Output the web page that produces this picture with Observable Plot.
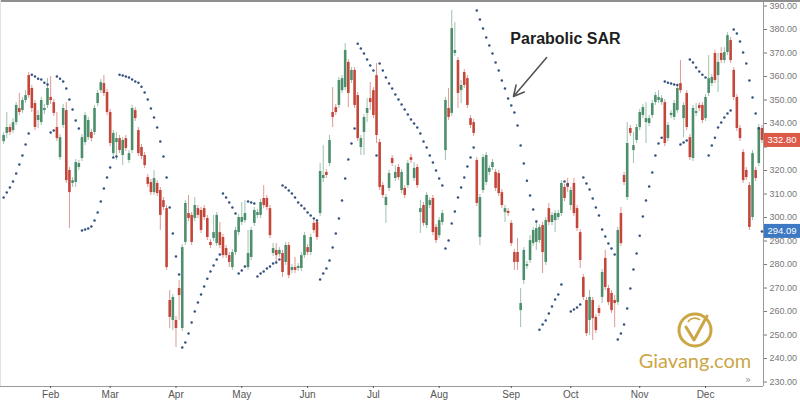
<!DOCTYPE html>
<html><head><meta charset="utf-8">
<script src="https://cdn.jsdelivr.net/npm/d3@7"></script>
<script src="https://cdn.jsdelivr.net/npm/@observablehq/plot@0.6"></script>
<style>
body{margin:0;background:#fff;}
#wrap{position:relative;width:800px;height:400px;overflow:hidden;background:#fff;}
</style></head><body><div id="wrap"></div>
<script>
// Daily OHLC (trading-day index 0..242)
const opens = [
332.3,335.8,338.3,337.0,340.4,346.4,345.5,349.8,360.4,354.9,
348.5,341.3,340.4,345.5,347.7,351.1,348.9,338.3,325.5,339.2,
345.5,320.0,314.5,314.9,321.3,325.1,331.9,334.0,336.2,336.2,
348.5,354.0,357.0,353.2,344.7,327.2,331.9,333.6,326.4,333.6,
324.3,328.5,345.5,337.0,329.8,326.4,317.0,314.9,310.6,314.5,
311.5,307.2,303.8,264.7,256.2,256.2,269.8,252.8,289.4,301.7,
300.9,299.6,303.8,303.0,303.8,299.6,289.4,291.1,288.9,293.6,
291.5,286.8,283.8,278.7,285.1,293.6,297.9,298.7,278.7,283.0,
297.5,300.9,300.9,308.1,308.1,303.8,284.7,286.0,284.3,284.7,
280.9,288.1,277.5,278.7,278.3,278.3,283.8,287.2,285.1,297.5,
297.9,301.7,316.6,319.2,323.0,344.7,346.8,347.7,354.0,355.3,
366.0,358.3,362.6,351.9,329.8,336.2,344.3,350.6,354.0,360.4,
331.9,313.6,305.1,312.4,325.1,316.6,321.3,311.5,312.4,313.6,
325.5,316.6,321.3,302.1,305.1,296.6,305.1,308.1,295.8,292.3,
297.9,328.5,346.4,344.3,369.8,366.8,354.0,361.7,359.1,342.1,
340.4,324.3,291.5,311.5,314.9,319.2,321.3,319.2,318.7,310.6,
302.1,302.6,297.5,285.1,285.1,260.4,273.2,279.2,281.7,288.9,
289.4,290.2,296.6,280.9,303.8,297.9,298.7,300.0,301.7,312.8,
314.5,305.1,314.5,303.8,293.6,274.5,264.7,256.2,264.7,257.5,
261.3,266.0,282.6,269.8,267.7,264.7,263.8,301.7,317.9,308.5,
337.9,328.5,332.8,338.3,343.4,340.4,340.0,343.4,348.9,349.8,
348.9,348.9,333.6,343.4,342.6,345.5,357.0,342.1,352.8,334.0,
325.1,344.3,347.7,347.7,342.1,352.8,357.0,369.8,360.4,369.8,
366.8,370.2,375.3,362.6,351.1,337.9,327.7,320.0,313.6,300.0,
320.0,323.0,337.9];
const highs = [
336.2,344.7,339.6,342.1,348.9,352.8,351.1,354.0,361.7,356.2,
349.8,345.5,351.1,348.1,359.1,360.0,350.2,344.7,335.3,348.1,
348.9,321.3,317.0,324.7,324.3,335.3,344.7,342.6,337.5,347.7,
354.0,358.7,360.4,354.5,346.0,337.0,336.2,334.9,334.0,334.9,
328.5,347.7,346.8,338.3,331.1,327.7,318.3,316.2,320.0,315.7,
312.8,308.5,305.1,268.9,267.2,257.9,273.2,288.5,307.2,309.4,
302.1,308.5,305.1,304.3,305.1,300.9,290.6,300.9,302.1,297.9,
292.8,288.1,285.1,286.4,295.8,301.3,306.4,307.2,294.5,295.8,
304.3,303.4,307.7,313.6,309.4,305.1,288.9,288.9,287.2,286.0,
289.4,289.4,280.0,283.0,280.4,285.1,293.6,288.5,292.8,298.7,
299.2,323.0,330.6,320.4,334.9,355.3,348.1,359.6,360.4,374.0,
367.2,363.8,363.8,353.2,334.9,343.8,350.6,357.4,355.3,365.5,
333.2,314.9,309.8,320.0,326.4,322.1,322.6,320.4,313.6,324.3,
326.8,323.4,322.6,307.2,306.4,310.6,308.5,309.4,297.0,300.0,
303.0,351.1,354.9,388.1,383.0,368.1,358.3,363.0,360.4,343.4,
341.7,325.5,309.8,326.8,327.7,322.1,324.7,320.4,320.0,311.9,
305.1,303.8,298.7,286.4,291.1,269.8,287.2,281.3,292.3,295.8,
298.7,297.0,297.9,300.0,306.0,302.1,303.0,303.0,315.7,314.1,
316.6,312.8,316.6,305.1,294.9,275.8,266.0,268.9,266.0,258.7,
262.6,277.9,286.0,271.1,268.9,266.8,295.8,304.3,319.2,340.4,
339.2,336.2,339.6,346.0,348.1,348.9,343.4,349.8,353.2,354.0,
351.9,350.2,340.4,345.5,349.8,356.2,366.8,348.9,354.0,335.3,
347.7,348.5,348.9,348.9,352.3,368.9,360.8,371.1,369.8,372.3,
372.3,378.7,376.6,363.8,352.3,339.2,328.9,321.3,314.9,328.5,
321.3,339.6,339.2];
const lows = [
331.1,333.6,334.9,335.8,339.2,343.4,344.3,348.5,350.6,344.7,
337.0,337.9,339.2,343.8,346.4,348.1,343.0,332.3,324.3,337.9,
314.5,295.3,312.8,312.8,320.0,323.8,330.6,332.8,332.3,334.9,
347.2,352.8,351.5,343.4,330.2,326.0,324.3,327.2,322.1,328.1,
323.0,327.2,340.9,326.0,324.7,320.9,312.8,309.4,309.4,308.9,
294.5,303.0,277.5,252.8,251.9,244.7,256.2,251.5,288.1,298.3,
288.1,298.3,299.6,293.2,298.7,290.2,286.8,289.8,287.7,286.8,
282.6,282.6,278.7,277.5,283.8,292.3,296.6,297.5,277.5,281.7,
296.2,299.6,299.6,303.8,303.0,291.1,283.4,280.9,283.0,274.5,
279.6,274.0,276.2,276.2,277.0,277.0,282.6,283.8,283.8,293.2,
290.2,300.4,314.9,316.6,321.7,338.3,343.4,346.4,352.8,354.0,
346.8,357.0,346.4,332.3,326.4,326.4,340.4,345.5,342.1,331.5,
311.5,308.1,297.5,311.1,321.7,315.3,315.7,310.2,308.1,312.4,
323.0,315.3,312.4,293.2,296.2,295.3,303.8,292.3,288.9,291.1,
296.6,324.3,341.3,343.0,368.5,346.4,348.5,354.9,346.4,337.9,
334.5,304.7,288.1,310.2,313.6,317.9,320.0,311.1,308.9,303.8,
297.9,300.4,287.7,277.5,277.5,253.2,271.5,277.9,280.4,287.7,
286.0,288.9,276.2,279.6,296.6,296.6,293.6,298.7,300.4,306.8,
310.6,303.0,300.4,294.0,278.3,264.7,249.4,249.8,247.7,250.6,
257.9,263.4,268.9,262.6,259.2,253.2,262.6,287.7,313.6,307.2,
334.5,323.0,331.5,337.0,342.1,331.5,338.7,342.1,347.7,348.5,
347.7,330.2,332.3,342.1,341.3,344.3,352.8,334.0,337.0,324.3,
323.8,343.0,345.1,340.0,340.9,351.5,355.7,357.0,353.2,365.5,
365.5,368.9,365.5,349.8,336.6,332.3,314.5,315.7,294.5,298.7,
315.3,321.7,331.5];
const closes = [
334.9,338.3,336.2,340.4,347.7,344.7,349.8,351.9,351.9,346.4,
338.3,343.4,349.8,346.4,354.9,349.8,344.3,333.6,334.0,346.4,
315.7,310.6,315.7,323.4,323.0,334.0,343.4,341.3,333.6,346.4,
352.8,357.4,352.8,344.7,331.5,335.8,333.6,328.5,332.8,329.4,
327.2,346.4,342.1,327.2,326.0,322.1,314.1,310.6,316.6,310.2,
300.9,304.3,278.7,257.5,266.0,252.8,266.8,287.2,306.0,299.6,
289.4,305.1,300.9,294.5,300.0,291.5,288.1,293.6,300.9,288.1,
283.8,283.8,280.9,285.1,294.5,300.0,300.0,301.7,284.7,294.5,
303.0,302.1,306.4,305.1,304.3,292.3,286.8,283.8,286.0,276.6,
288.1,275.3,278.7,277.5,279.2,283.8,292.3,285.1,291.5,294.5,
291.5,319.6,317.9,317.9,332.8,342.6,344.7,358.3,359.1,371.1,
352.8,362.6,347.7,333.6,333.6,342.6,346.4,348.9,343.4,334.9,
312.8,309.4,308.5,318.7,323.0,319.2,317.0,319.2,309.4,323.0,
324.3,320.9,313.6,303.8,297.5,309.4,307.2,293.6,290.2,298.7,
301.7,349.8,342.6,380.4,371.1,352.8,356.2,356.2,347.7,339.2,
335.8,306.0,308.5,325.5,326.4,320.9,323.4,312.4,310.2,305.1,
303.8,301.7,288.9,280.9,280.9,263.4,286.0,280.0,290.2,294.5,
295.3,295.8,285.1,298.7,297.9,300.9,301.7,301.7,314.5,308.1,
312.8,311.5,301.7,295.3,281.7,266.0,250.6,266.0,257.0,251.9,
259.2,276.6,270.2,263.8,260.4,263.4,294.5,288.9,314.9,331.5,
335.8,330.6,338.3,344.7,346.8,342.1,342.1,348.5,351.9,351.1,
350.6,331.5,339.2,344.3,348.5,354.9,354.0,347.7,338.3,325.5,
346.4,345.1,346.4,341.3,351.1,359.1,359.6,358.3,366.0,366.8,
370.2,377.4,366.8,351.1,337.9,333.6,315.7,317.0,295.8,327.2,
316.6,338.3,332.8];
// Parabolic SAR value per day
const sar = [
308.5,310.6,312.8,315.3,318.7,322.6,326.4,331.1,335.8,360.8,
360.0,359.1,358.7,357.4,356.6,336.2,337.0,360.0,359.1,357.9,
354.9,350.2,346.0,341.3,337.9,294.5,294.9,295.3,296.2,298.7,
302.1,306.8,312.4,317.0,321.3,325.5,326.0,360.8,360.4,360.0,
359.6,358.7,357.9,357.4,355.7,353.2,350.2,346.4,342.6,338.3,
332.3,326.0,317.0,304.3,293.2,283.4,275.8,244.7,246.8,250.6,
255.3,260.0,263.8,267.2,270.6,274.0,277.0,279.6,282.1,284.3,
310.2,308.5,306.4,304.3,301.7,276.2,277.5,279.2,306.8,306.4,
306.0,274.9,276.2,277.0,278.3,279.2,280.4,280.9,282.1,313.6,
312.8,311.5,310.2,308.5,306.4,305.1,303.8,302.1,300.9,299.6,
298.7,273.6,276.2,278.3,281.7,287.2,293.2,299.6,307.2,316.6,
324.7,331.5,337.9,374.0,371.9,369.8,367.2,364.7,362.6,326.4,
365.5,362.6,359.6,357.0,354.9,352.3,350.2,348.1,346.0,343.8,
341.7,340.0,338.3,335.8,332.3,329.8,326.4,323.4,320.0,316.6,
313.6,286.8,290.2,297.5,302.6,308.5,312.8,317.0,321.7,325.5,
329.8,388.1,384.3,380.4,376.6,373.2,369.8,366.0,362.6,358.3,
354.9,350.6,347.7,344.7,339.2,330.6,323.0,315.7,309.4,303.4,
298.3,252.3,254.5,256.2,259.2,262.1,265.1,267.2,271.5,315.3,
314.1,260.0,260.9,261.7,263.0,317.0,314.5,311.9,308.1,304.3,
300.9,294.9,291.9,288.9,286.8,284.3,248.1,250.6,254.5,261.3,
269.8,277.9,284.7,292.3,300.4,307.2,313.2,319.2,326.4,331.5,
334.0,357.9,357.4,357.0,356.6,356.4,331.1,331.9,332.8,367.2,
366.0,363.8,362.1,360.8,359.6,326.4,330.6,334.0,338.3,340.4,
342.6,344.3,345.5,380.0,378.3,374.9,370.2,365.5,358.3,351.1,
344.3,337.9,294.09];

const monthTicks  = [15, 34, 55, 76, 97, 118, 139, 162, 181, 203, 224];
const monthLabels = ["Feb","Mar","Apr","May","Jun","Jul","Aug","Sep","Oct","Nov","Dec"];
const priceTicks  = [230,240,250,260,270,280,290,300,310,320,330,340,350,360,370,380,390];
const yDomain = [228.1, 391.5];
const lastPrice = 332.80;
const lastSar = 294.09;
const annotation = [{label: "Parabolic SAR", i: 179.3, p: 376.2}];
const pointer = [{i1: 173.3, p1: 368.1, i2: 162.7, p2: 351.5}];

const N = opens.length;
[highs, lows, closes, sar].forEach((a, k) => { if (a.length !== N) console.error("length mismatch", k, a.length, N); });

const candles = opens.map((o, i) => ({i, open: o, high: highs[i], low: lows[i], close: closes[i]}));
const ups = candles.filter(d => d.close >= d.open);
const downs = candles.filter(d => d.close < d.open);
const sarPts = sar.map((v, i) => ({i, v}));

const GREEN = "#4d8f6c", RED = "#c4463b", SARC = "#33507f";

// tick labels hidden behind the last-price box (as in the reference)
const priceFmt = d => Math.abs(d - lastPrice) < 3.5 ? "" : d.toFixed(2);

const chart = Plot.plot({
  width: 800, height: 400,
  marginLeft: 0, marginRight: 37, marginTop: 2, marginBottom: 14,
  x: {type: "linear", domain: [-1, N - 0.5], axis: null},
  y: {domain: yDomain, axis: null},
  style: {fontFamily: "Liberation Sans, Arial, sans-serif", background: "#fff", overflow: "visible"},
  marks: [
    Plot.ruleY([yDomain[0]], {stroke: "#9a9a9a"}),
    Plot.ruleX([N - 0.5], {stroke: "#9a9a9a"}),
    Plot.ruleX(ups, {x: "i", y1: "low", y2: "high", stroke: GREEN, strokeOpacity: 0.55, strokeWidth: 1}),
    Plot.ruleX(downs, {x: "i", y1: "low", y2: "high", stroke: RED, strokeOpacity: 0.55, strokeWidth: 1}),
    Plot.ruleX(ups, {x: "i", y1: "open", y2: "close", stroke: GREEN, strokeWidth: 2.6}),
    Plot.ruleX(downs, {x: "i", y1: "open", y2: "close", stroke: RED, strokeWidth: 2.6}),
    Plot.dot(sarPts, {x: "i", y: "v", r: 1.25, fill: SARC, stroke: null}),
    Plot.axisY(priceTicks, {anchor: "right", tickSize: 3, tickPadding: 3, fontSize: 9,
      tickFormat: priceFmt, color: "#777"}),
    Plot.axisX(monthTicks, {anchor: "bottom", tickSize: 2, tickPadding: 2, fontSize: 10,
      tickFormat: d => monthLabels[monthTicks.indexOf(d)], color: "#555"}),
    Plot.arrow(pointer, {x1: "i1", y1: "p1", x2: "i2", y2: "p2", stroke: "#555", strokeWidth: 1.6, headLength: 11, headAngle: 55}),
    Plot.text(annotation, {x: "i", y: "p", text: "label", fontSize: 16, fontWeight: "bold", fill: "#1e1e1e",
      fontFamily: "Liberation Sans, Arial, sans-serif"})
  ]
});

document.getElementById("wrap").appendChild(chart);

// Chrome: frame lines, last-value labels, watermark
const svg = d3.select(chart);
const ys = chart.scale("y");
svg.append("rect").attr("x", 0).attr("y", 0).attr("width", 800).attr("height", 2).attr("fill", "#8f8f8f");
svg.append("line").attr("x1", 0.5).attr("x2", 0.5).attr("y1", 0).attr("y2", 386).attr("stroke", "#e2e2e2");

function valueLabel(v, bg, txt) {
  const yy = ys.apply(v);
  svg.append("rect").attr("x", 764).attr("y", yy - 7).attr("width", 36).attr("height", 14).attr("fill", bg);
  svg.append("text").attr("x", 782).attr("y", yy).attr("dy", "0.35em").attr("text-anchor", "middle")
    .attr("font-size", 9.5).attr("font-family", "Liberation Sans, Arial, sans-serif").attr("fill", "#fff").text(txt);
}
valueLabel(lastPrice, "#dc5a48", lastPrice.toFixed(2));
valueLabel(lastSar, "#3c79c2", lastSar.toFixed(2));

svg.append("text").attr("x", 748).attr("y", 383).attr("text-anchor", "middle").attr("font-size", 10)
  .attr("fill", "#999").attr("font-family", "DejaVu Sans, sans-serif").text("»");

const wm = svg.append("g").attr("opacity", 0.95);
const gold = "#caa23c";
wm.append("circle").attr("cx", 695).attr("cy", 330).attr("r", 16).attr("fill", "none").attr("stroke", gold).attr("stroke-width", 3);
wm.append("path").attr("d", "M686 327 L694 340 L707 316").attr("fill", "none").attr("stroke", gold).attr("stroke-width", 3).attr("stroke-linecap", "round").attr("stroke-linejoin", "round");
wm.append("path").attr("d", "M688 322 A8 8 0 0 1 700 320").attr("fill", "none").attr("stroke", gold).attr("stroke-width", 1.6);
wm.append("text").attr("x", 695).attr("y", 368).attr("text-anchor", "middle").attr("font-size", 20)
  .attr("font-family", "Lato, 'Open Sans', sans-serif").attr("fill", gold).text("Giavang.com");
</script>
</body></html>
